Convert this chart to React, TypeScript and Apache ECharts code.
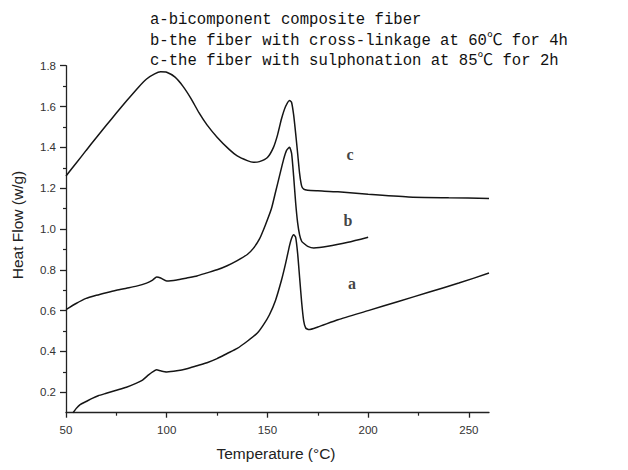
import React, { useEffect, useRef } from "react";
import * as echarts from "echarts";

// Curve a – bicomponent composite fiber
const aTemp = [53.5, 55, 57, 60, 63, 66, 70, 75, 80, 85, 88, 91, 93, 95, 97, 100, 105, 110, 115, 120, 125, 130, 135, 140, 145, 148, 151, 154, 157, 159, 161, 162, 163, 164, 165, 166, 167, 168, 169, 170.6, 175, 185, 200, 215, 230, 245, 260];
const aHeat = [0.1, 0.12, 0.14, 0.155, 0.17, 0.183, 0.195, 0.21, 0.225, 0.245, 0.26, 0.285, 0.3, 0.31, 0.305, 0.3, 0.305, 0.315, 0.33, 0.345, 0.365, 0.39, 0.415, 0.45, 0.49, 0.53, 0.58, 0.65, 0.75, 0.83, 0.92, 0.955, 0.972, 0.96, 0.88, 0.76, 0.64, 0.55, 0.515, 0.507, 0.52, 0.555, 0.6, 0.645, 0.69, 0.735, 0.784];

// Curve b – cross-linked fiber
const bTemp = [50, 55, 60, 65, 70, 75, 80, 85, 90, 93, 95, 97, 100, 105, 110, 115, 120, 125, 130, 135, 140, 143, 146, 149, 152, 154, 156, 158, 159.5, 161, 162, 163, 164, 165, 166, 167, 168, 170, 173, 180, 190, 200];
const bHeat = [0.605, 0.635, 0.66, 0.675, 0.688, 0.7, 0.71, 0.72, 0.735, 0.75, 0.765, 0.76, 0.745, 0.75, 0.76, 0.77, 0.785, 0.8, 0.82, 0.845, 0.875, 0.905, 0.95, 1.02, 1.1, 1.18, 1.26, 1.34, 1.385, 1.4, 1.37, 1.26, 1.13, 1.03, 0.97, 0.94, 0.93, 0.915, 0.907, 0.915, 0.935, 0.96];

// Curve c – sulphonated fiber
const cTemp = [50, 55, 60, 65, 70, 75, 80, 86, 90, 94, 97, 100, 104, 108, 112, 116, 120, 125, 131, 135, 140, 143, 146, 150, 153, 155, 157, 159, 161, 162, 163, 164, 165, 166, 167, 168, 170, 175, 185, 200, 220, 240, 260];
const cHeat = [1.26, 1.322, 1.385, 1.447, 1.508, 1.568, 1.627, 1.695, 1.735, 1.76, 1.77, 1.768, 1.745, 1.7, 1.64, 1.57, 1.51, 1.45, 1.39, 1.358, 1.335, 1.327, 1.33, 1.35, 1.4, 1.46, 1.54, 1.6, 1.63, 1.62, 1.56, 1.47, 1.37, 1.27, 1.21, 1.195, 1.19, 1.187, 1.182, 1.17, 1.157, 1.153, 1.15];

// Curve letters
const curveNames = ["a", "b", "c"];
const curveLabelTemp = [192, 190, 191];
const curveLabelHeat = [0.735, 1.04, 1.363];

// Axis ticks
const xMajorTicks = [50, 100, 150, 200, 250];
const xMinorTicks = [75, 125, 175, 225];
const yMajorTicks = [0.2, 0.4, 0.6, 0.8, 1.0, 1.2, 1.4, 1.6, 1.8];
const yMinorTicks = [0.3, 0.5, 0.7, 0.9, 1.1, 1.3, 1.5, 1.7];

const legendLines = [
  "a-bicomponent composite fiber",
  "b-the fiber with cross-linkage at 60\u2103 for 4h",
  "c-the fiber with sulphonation at 85\u2103 for 2h",
];

const pairs = (xs: number[], ys: number[]) => xs.map((x, i) => [x, ys[i]]);

export default function App() {
  const ref = useRef<HTMLDivElement>(null);
  useEffect(() => {
    if (!ref.current) return;
    const chart = echarts.init(ref.current, null, { renderer: "svg" });
    const lineSeries = (name: string, data: number[][]) => ({
      name,
      type: "line",
      data,
      showSymbol: false,
      smooth: 0.2,
      lineStyle: { color: "#151515", width: 1.5 },
      itemStyle: { color: "#151515" },
      xAxisIndex: 0,
      yAxisIndex: 0,
    });
    const tickFont = { fontFamily: "'Liberation Sans', Arial, sans-serif", fontSize: 11.5, color: "#333" };
    chart.setOption({
      animation: false,
      backgroundColor: "#fff",
      grid: { left: 66, top: 65.7, right: 139, bottom: 57.3 },
      xAxis: [
        {
          type: "value",
          min: 50,
          max: 260,
          axisLine: { show: true, lineStyle: { color: "#222", width: 1.3 } },
          axisTick: { show: true, customValues: xMajorTicks, length: 5, lineStyle: { color: "#222", width: 1.3 } },
          axisLabel: { show: true, customValues: xMajorTicks, margin: 11, ...tickFont },
          splitLine: { show: false },
        },
        {
          type: "value",
          min: 50,
          max: 260,
          position: "bottom",
          axisLine: { show: false },
          axisTick: { show: true, customValues: xMinorTicks, length: 3, lineStyle: { color: "#222", width: 1.2 } },
          axisLabel: { show: false },
          splitLine: { show: false },
        },
      ],
      yAxis: [
        {
          type: "value",
          min: 0.1,
          max: 1.8,
          axisLine: { show: true, lineStyle: { color: "#222", width: 1.3 } },
          axisTick: { show: true, customValues: yMajorTicks, length: 6, lineStyle: { color: "#222", width: 1.3 } },
          axisLabel: {
            show: true,
            customValues: yMajorTicks,
            margin: 10,
            formatter: (v: number) => v.toFixed(1),
            ...tickFont,
          },
          splitLine: { show: false },
        },
        {
          type: "value",
          min: 0.1,
          max: 1.8,
          position: "left",
          axisLine: { show: false },
          axisTick: { show: true, customValues: yMinorTicks, length: 3, lineStyle: { color: "#222", width: 1.2 } },
          axisLabel: { show: false },
          splitLine: { show: false },
        },
      ],
      series: [
        lineSeries("a", pairs(aTemp, aHeat)),
        lineSeries("b", pairs(bTemp, bHeat)),
        lineSeries("c", pairs(cTemp, cHeat)),
        {
          type: "scatter",
          symbolSize: 0,
          data: curveNames.map((n, i) => [curveLabelTemp[i], curveLabelHeat[i], n]),
          label: {
            show: true,
            position: "inside",
            formatter: (p: any) => p.data[2],
            fontFamily: "'Liberation Serif', 'Times New Roman', serif",
            fontWeight: "bold",
            fontSize: 16,
            color: "#111",
          },
        },
      ],
      graphic: [
        ...legendLines.map((t, i) => ({
          type: "text",
          x: 150,
          y: 20 + i * 20.5,
          style: {
            text: t,
            fontFamily: "'Liberation Mono', 'Noto Sans CJK SC', monospace",
            fontSize: 15.6,
            fill: "#111",
            align: "left",
            verticalAlign: "middle",
          },
        })),
        {
          type: "text",
          x: 17,
          y: 225,
          rotation: Math.PI / 2,
          style: {
            text: "Heat Flow (w/g)",
            fontFamily: "'Liberation Sans', Arial, sans-serif",
            fontSize: 15.5,
            fill: "#222",
            align: "center",
            verticalAlign: "middle",
          },
        },
        {
          type: "text",
          x: 276,
          y: 453,
          style: {
            text: "Temperature (\u00B0C)",
            fontFamily: "'Liberation Sans', Arial, sans-serif",
            fontSize: 15.5,
            fill: "#222",
            align: "center",
            verticalAlign: "middle",
          },
        },
      ],
    });
    return () => chart.dispose();
  }, []);
  return (
    <div
      ref={ref}
      style={{ position: "absolute", left: 0, top: 0, width: 628, height: 470, background: "#fff" }}
    />
  );
}
